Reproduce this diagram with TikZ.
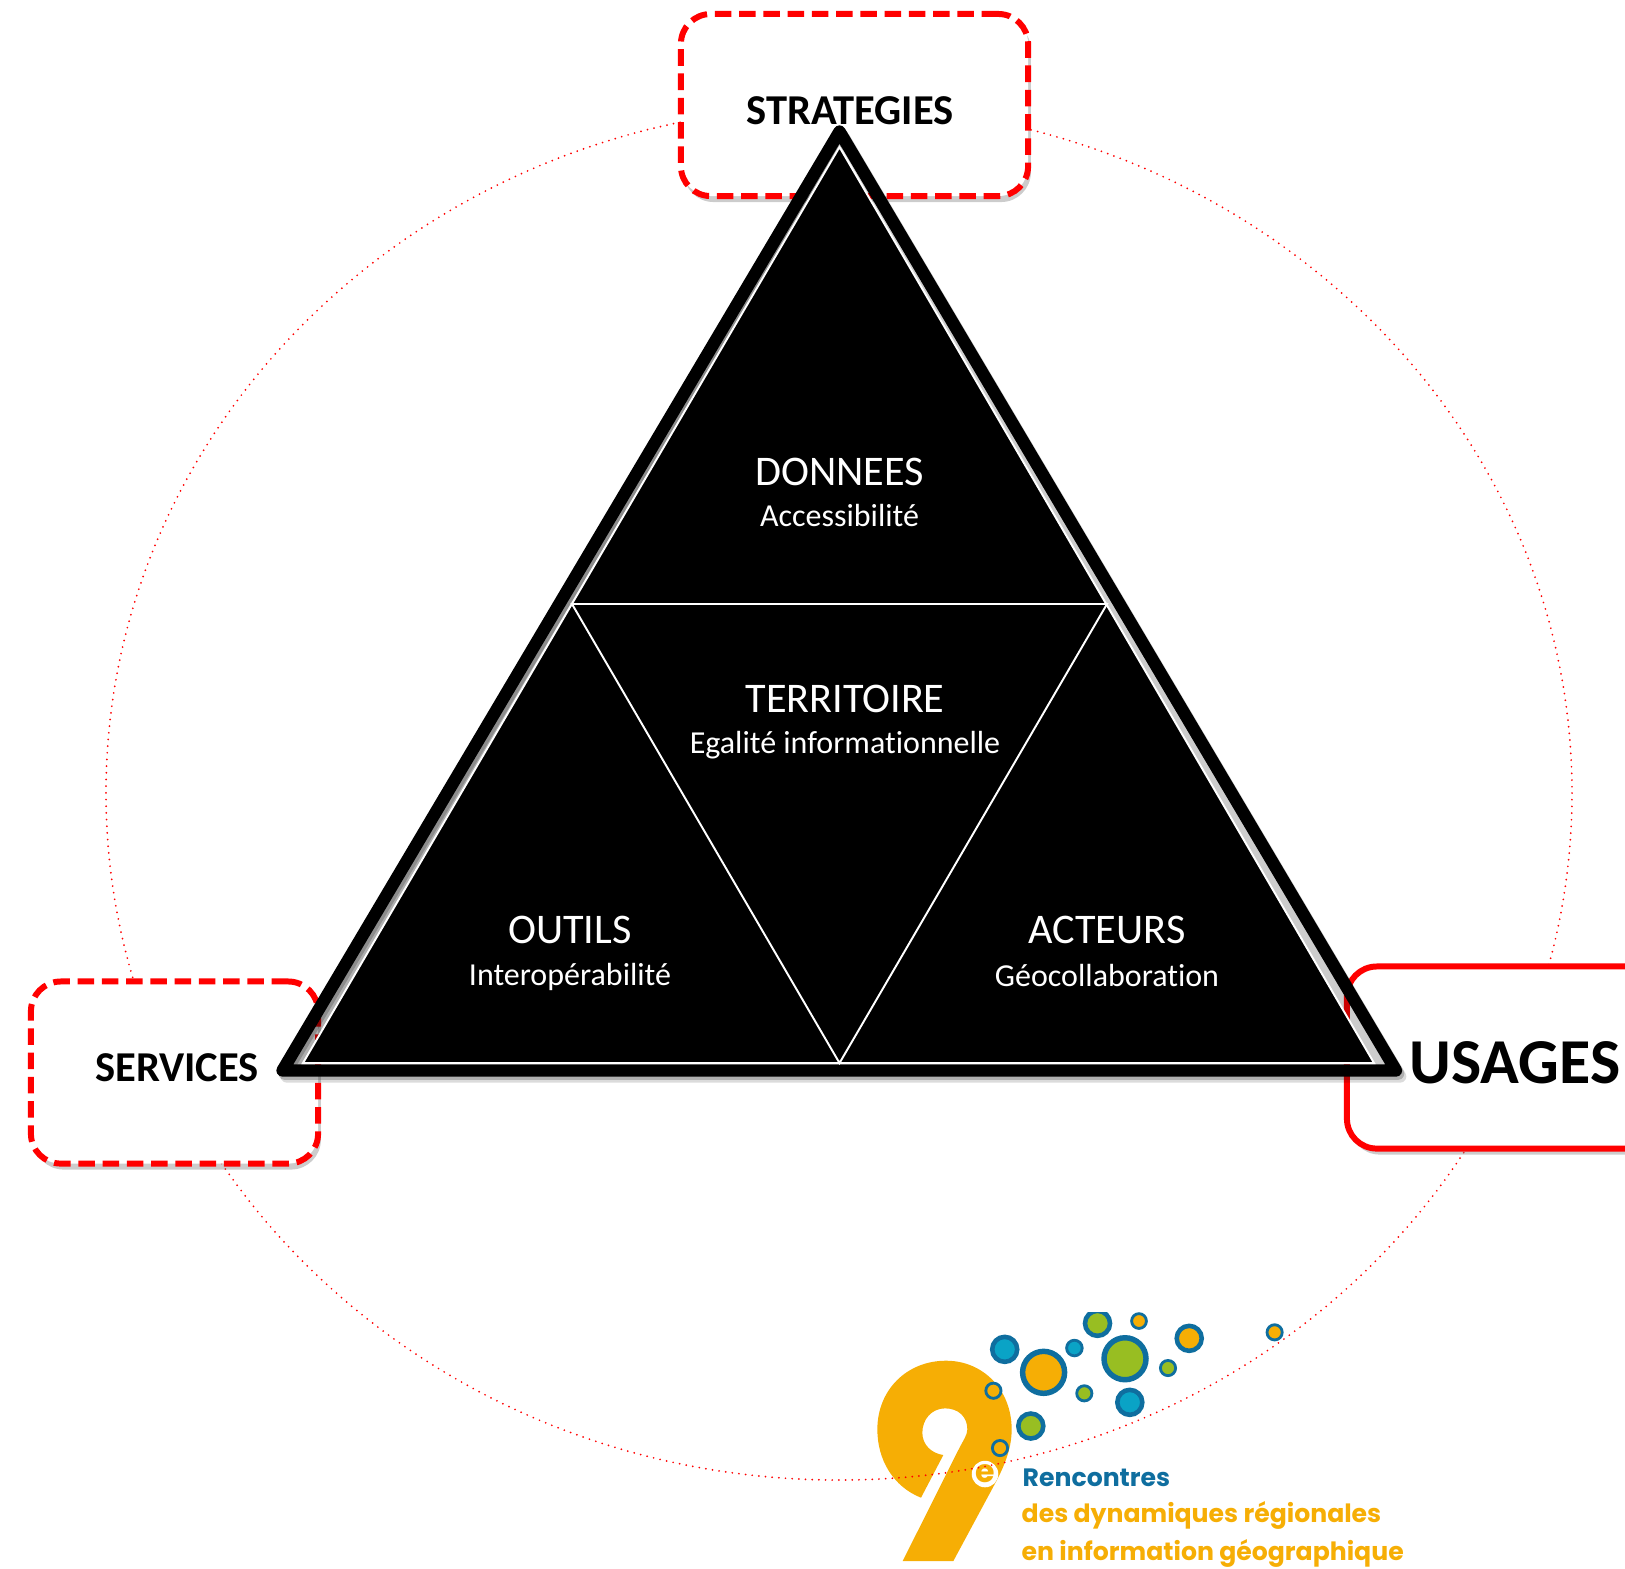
\documentclass[tikz,border=0pt]{standalone}
\usepackage{fontspec}
\setmainfont{Carlito}[Ligatures=NoCommon]
\newfontfamily\logofont{Poppins}
\usetikzlibrary{shadows}

\definecolor{logorim}{HTML}{0F6E9F}
\definecolor{logoteal}{HTML}{0AA3C6}
\definecolor{logoorange}{HTML}{F6AE05}
\definecolor{logogreen}{HTML}{98BE22}

\begin{document}
\begin{tikzpicture}[
			x=.01cm, y=-.01cm,
			pole/.style={draw=red, fill=white, line width=1.7pt, rounded corners=8.5pt, minimum height=1.82cm, drop shadow={shadow xshift=.8pt, shadow yshift=-1.7pt, opacity=.4}},
			dashpole/.style={pole, dash pattern=on 4.7pt off 2.2pt, minimum width=3.47cm},
			poletext/.style={font=\fontsize{12.1}{14}\selectfont\bfseries, text=black, inner sep=0},
			zonetitle/.style={font=\fontsize{12}{14}\selectfont, text=white, inner sep=0},
			zonetext/.style={font=\fontsize{9.1}{11}\selectfont, text=white, inner sep=0},
			tealbub/.style={draw=logorim, fill=logoteal},
			orangebub/.style={draw=logorim, fill=logoorange},
			greenbub/.style={draw=logorim, fill=logogreen},
			smallbub/.style={line width=.8pt},
			midbub/.style={line width=1.3pt},
			bigbub/.style={line width=1.55pt},
			logotext/.style={anchor=base west, inner sep=0, font=\fontsize{7.15}{8}\selectfont\logofont\bfseries, text=logoorange},
			outline/.style={line width=3.5pt, line join=round}
			]
			
			\useasboundingbox (0,0) rectangle (1625,1568);
			
			\begin{scope}[shift={(860,1340)}, scale=1/3]
				\fill[logoorange] (183,473) .. controls (100,440) and (52,360) .. (52,268) .. controls (52,150) and (140,62) .. (258,62) .. controls (370,62) and (455,150) .. (455,268) .. controls (455,330) and (430,385) .. (400,440) -- (280,663) -- (128,663) -- (295,330) .. controls (310,300) and (322,285) .. (322,268) .. controls (322,230) and (295,205) .. (255,205) .. controls (215,205) and (187,238) .. (187,278) .. controls (187,315) and (215,340) .. (250,345) -- cycle;
			\end{scope}
			\node[circle, fill=white, minimum size=.25cm, inner sep=0, font=\fontsize{9}{9}\selectfont\logofont\bfseries, text=logoorange] (ordinal) at (985,1474) {e};
			
			\begin{scope}
				\clip (850,1312) rectangle (1400,1568);
				\path[tealbub, midbub] (1004.7,1349.3) circle (12.5);
				\path[orangebub, bigbub] (1043.6,1372.3) circle (21);
				\path[tealbub, smallbub] (1074.4,1348) circle (7.8);
				\path[greenbub, midbub] (1097.5,1323.3) circle (12.5);
				\path[orangebub, smallbub] (1139,1321) circle (7.4);
				\path[greenbub, bigbub] (1125,1358.7) circle (21);
				\path[orangebub, midbub] (1189.2,1338.3) circle (12.5);
				\path[greenbub, smallbub] (1168,1368) circle (7.6);
				\path[orangebub, smallbub] (1274.6,1332.3) circle (7.6);
				\path[greenbub, smallbub] (1084.3,1393.3) circle (7.6);
				\path[tealbub, midbub] (1129.8,1402.3) circle (12.5);
				\path[greenbub, midbub] (1030.8,1426) circle (12.5);
				\path[orangebub, smallbub] (993.4,1390.7) circle (7.6);
				\path[orangebub, smallbub] (1000,1448) circle (7.6);
			\end{scope}
			
			\node[logotext, text=logorim] (rencontres) at (1022,1486) {Rencontres};
			\node[logotext] (dynamiques) at (1021,1522) {des dynamiques régionales};
			\node[logotext] (information) at (1021,1560) {en information géographique};
			
			\draw[red, line width=.55pt, line cap=round, dash pattern=on 0pt off 1.9pt] (839,793) ellipse (733 and 687);
			
			\node[dashpole] (strategiesbox) at (854.5,105) {};
			\node[dashpole, minimum width=2.87cm] (servicesbox) at (174.5,1072.5) {};
			\node[pole, minimum width=3.2cm] (usagesbox) at (1507,1057.5) {};
			
			\node[poletext] (strategies) at (850,111) {STRATEGIES};
			\node[poletext] (services) at (177,1068) {SERVICES};
			\node[poletext, font=\fontsize{18.2}{20}\selectfont\bfseries] (usages) at (1515,1063) {USAGES};
			
			\coordinate (top) at (839.5,131.5);
			\coordinate (left) at (282.5,1070.5);
			\coordinate (right) at (1396,1070.5);
			\coordinate (innertop) at (839.5,147);
			\coordinate (innerleft) at (303,1063);
			\coordinate (innerright) at (1374,1063);
			\coordinate (midleft) at (572,604);
			\coordinate (midright) at (1107,604);
			\coordinate (midbottom) at (839.5,1063);
			
			\draw[black, opacity=.14, outline, transform canvas={xshift=1.2pt, yshift=-1.7pt}] (top) -- (left) -- (right) -- cycle;
			\draw[black, opacity=.2, outline, transform canvas={xshift=.6pt, yshift=-.9pt}] (top) -- (left) -- (right) -- cycle;
			\fill[black, opacity=.2] (top) -- (left) -- (right) -- cycle;
			\draw[black, outline] (top) -- (left) -- (right) -- cycle;
			\draw[white, line width=.55pt, fill=black] (innertop) -- (innerleft) -- (innerright) -- cycle;
			\draw[white, line width=.55pt] (midleft) -- (midright) -- (midbottom) -- cycle;
			
			\node[zonetitle] (donnees) at (839.5,472) {DONNEES};
			\node[zonetext] (accessibilite) at (839.5,515) {Accessibilité};
			\node[zonetitle] (territoire) at (845,699) {TERRITOIRE};
			\node[zonetext] (egalite) at (845,745) {Egalité informationnelle};
			\node[zonetitle] (outils) at (570,930) {OUTILS};
			\node[zonetext] (interoperabilite) at (570,977) {Interopérabilité};
			\node[zonetitle] (acteurs) at (1107,930) {ACTEURS};
			\node[zonetext] (geocollaboration) at (1107,975) {Géocollaboration};
			
			\end{tikzpicture}
\end{document}
